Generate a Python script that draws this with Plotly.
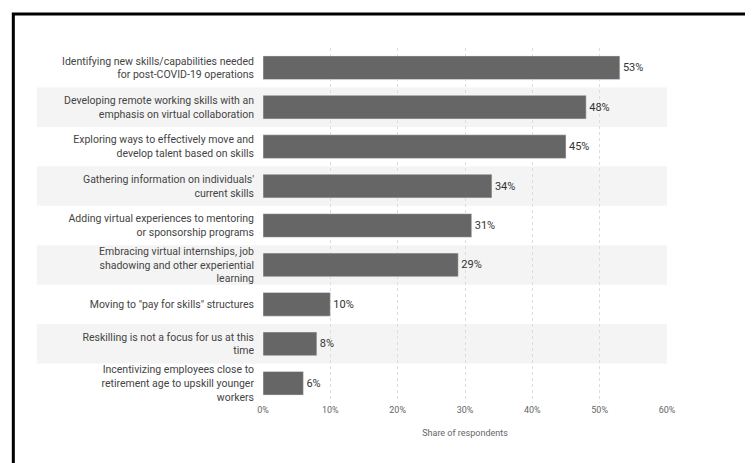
import plotly.graph_objects as go

categories = [
    "Identifying new skills/capabilities needed<br>for post-COVID-19 operations",
    "Developing remote working skills with an<br>emphasis on virtual collaboration",
    "Exploring ways to effectively move and<br>develop talent based on skills",
    "Gathering information on individuals'<br>current skills",
    "Adding virtual experiences to mentoring<br>or sponsorship programs",
    "Embracing virtual internships, job<br>shadowing and other experiential<br>learning",
    "Moving to \"pay for skills\" structures",
    "Reskilling is not a focus for us at this<br>time",
    "Incentivizing employees close to<br>retirement age to upskill younger<br>workers",
]
values = [53, 48, 45, 34, 31, 29, 10, 8, 6]
tick_vals = [0, 10, 20, 30, 40, 50, 60]
tick_text = ["0%", "10%", "20%", "30%", "40%", "50%", "60%"]

fig = go.Figure(go.Bar(
    y=categories, x=values, orientation="h",
    marker=dict(color="#666666"), width=0.6,
    text=[f"{v}%" for v in values], textposition="outside",
    textfont=dict(family="Roboto", size=11, color="#333333"),
    cliponaxis=False,
))

shapes = []
for i, c in enumerate(categories):
    if i % 2 == 1:
        shapes.append(dict(type="rect", xref="paper", yref="y", x0=-0.56, x1=1.0,
                           y0=i - 0.5, y1=i + 0.5, fillcolor="#f4f4f4",
                           line=dict(width=0), layer="below"))
shapes.append(dict(type="rect", xref="paper", yref="paper", x0=-0.618, x1=1.220,
                   y0=-0.174, y1=1.096, line=dict(color="black", width=3)))

fig.update_layout(
    width=753, height=463,
    margin=dict(l=255, r=94, t=40, b=68, autoexpand=False),
    plot_bgcolor="white", paper_bgcolor="white",
    shapes=shapes, showlegend=False,
    font=dict(family="Roboto", size=11, color="#444444"),
    bargap=0.4,
)
fig.update_yaxes(autorange="reversed", tickfont=dict(size=10.5, color="#444444"),
                 ticks="", ticklabelstandoff=8, automargin=False)
fig.update_xaxes(range=[0, 60], tickvals=tick_vals, ticktext=tick_text,
                 showgrid=True, gridcolor="#dddddd", griddash="dot",
                 tickfont=dict(size=9, color="#666666"), zeroline=False, automargin=False,
                 title=dict(text="Share of respondents", font=dict(size=9, color="#666666")))
fig.write_html("out.html")
